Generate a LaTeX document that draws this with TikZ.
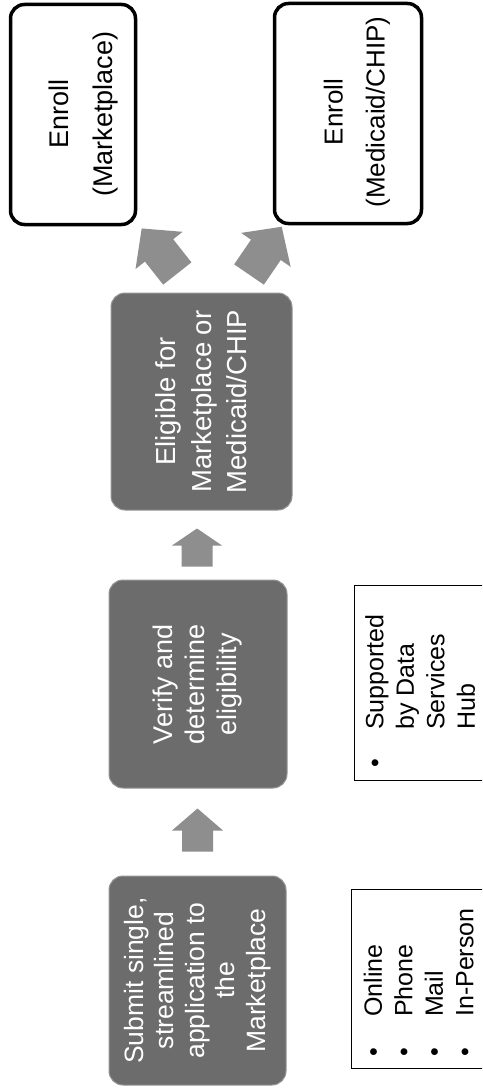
\documentclass[tikz,border=0pt]{standalone}
\usepackage{fontspec}
\setmainfont{Liberation Sans}
\usetikzlibrary{calc}
\definecolor{boxgray}{RGB}{108,108,108}
\definecolor{rimgray}{RGB}{150,150,150}
\definecolor{arrowgray}{RGB}{142,142,142}
\newcommand{\blkarrow}[5]{%
  \coordinate (#1b) at ($(#2)!#5!(#1)$);
  \fill[arrowgray] ($(#1)!#3!90:(#2)$) -- ($(#1b)!#3!90:(#2)$) -- ($(#1b)!#4!90:(#2)$) -- (#2)
    -- ($(#1b)!#4!-90:(#2)$) -- ($(#1b)!#3!-90:(#2)$) -- ($(#1)!#3!-90:(#2)$) -- cycle;}
\begin{document}
\begin{tikzpicture}[x=1pt,y=-1pt,
  graybox/.style={rectangle, rounded corners=14pt, fill=boxgray, draw=rimgray, line width=1pt,
    text=white, align=center, rotate=90, inner sep=0pt},
  enrollbox/.style={rectangle, rounded corners=14pt, draw=black, line width=3.5pt, fill=white,
    rotate=90, inner sep=0pt},
  enrolltext/.style={align=center, rotate=90, inner sep=0pt},
  listbox/.style={rectangle, draw=black, line width=1.2pt, anchor=north west, inner sep=0pt},
  listtext/.style={align=left, rotate=90, inner sep=0pt, anchor=north west,
    font={\fontsize{25}{30.5}\selectfont}}]
\useasboundingbox (0,0) rectangle (482,1089);
\clip (0,0) rectangle (482,1089);
\fill[white] (0,0) rectangle (482,1089);

% gray process boxes
\node[graybox, minimum width=209pt, minimum height=177pt, font={\fontsize{26.5}{30.5}\selectfont}]
  (box1) at (197.5,980.5) {Submit single,\\streamlined\\application to\\the\\Marketplace};
\node[graybox, minimum width=208pt, minimum height=178pt, font={\fontsize{27}{32}\selectfont}]
  (box2) at (198,684) {Verify and\\determine\\eligibility};
\node[graybox, minimum width=217pt, minimum height=181pt, font={\fontsize{27.5}{35.5}\selectfont}]
  (box3) at (201.5,401.5) {Eligible for\\Marketplace or\\Medicaid/CHIP};

% enroll boxes
\node[enrollbox, minimum width=220pt, minimum height=125pt] (eA) at (73,114.5) {};
\node[enrolltext, font={\fontsize{27}{44}\selectfont}] (eAt) at (84,114) {Enroll\\(Marketplace)};
\node[enrollbox, minimum width=220pt, minimum height=147pt] (eB) at (348,113.5) {};
\node[enrolltext, font={\fontsize{26}{42}\selectfont}] (eBt) at (357,112) {Enroll\\(Medicaid/CHIP)};

% list boxes
\node[listbox, minimum width=170pt, minimum height=195pt] (lsbox) at (354,585) {};
\node[listtext] (lst) at (365,767.4) {\makebox[37.4pt][l]{•}Supported\\\hspace*{37.4pt}by Data\\\hspace*{37.4pt}Services\\\hspace*{37.4pt}Hub};
\node[listbox, minimum width=170pt, minimum height=179pt] (lobox) at (351,889) {};
\node[listtext] (lot) at (363.5,1056.4) {\makebox[39.4pt][l]{•}Online\\\makebox[39.4pt][l]{•}Phone\\\makebox[39.4pt][l]{•}Mail\\\makebox[39.4pt][l]{•}In-Person};

% block arrows
\coordinate (a1s) at ($(box1.east)+(0,-24)$);
\coordinate (a1t) at ($(a1s |- box2.west)+(0,20)$);
\blkarrow{a1s}{a1t}{15.5pt}{25.5pt}{22pt}
\coordinate (a2s) at ($(box2.east)+(-1,-13)$);
\coordinate (a2t) at ($(a2s |- box3.west)+(0,18)$);
\blkarrow{a2s}{a2t}{15.5pt}{25pt}{17pt}
\coordinate (aLs) at ($(box3.east)+(-24.2,-19)$);
\coordinate (aLt) at ($(eA.west)+(68.7,2.2)$);
\blkarrow{aLs}{aLt}{18pt}{30pt}{28pt}
\coordinate (aRs) at ($(box3.east)+(47.5,-18)$);
\coordinate (aRt) at ($(eB.west)+(-66.3,1.5)$);
\blkarrow{aRs}{aRt}{18pt}{30pt}{28pt}
\end{tikzpicture}
\end{document}
